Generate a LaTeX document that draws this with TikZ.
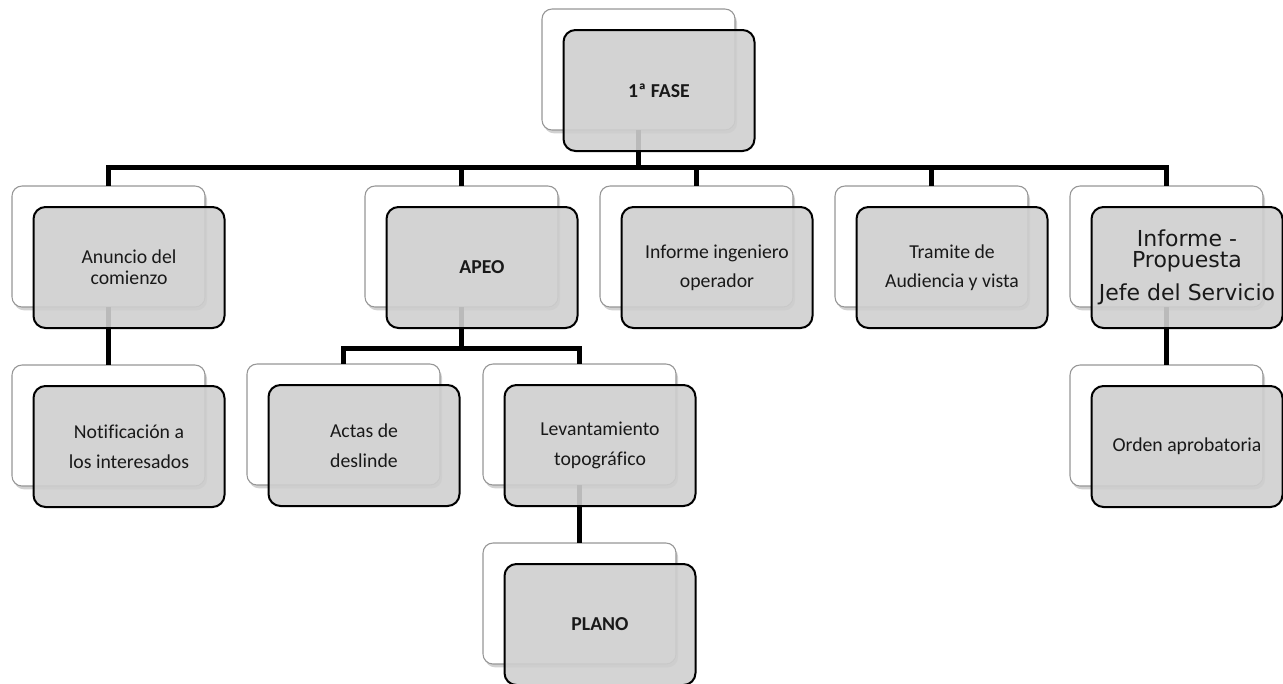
\documentclass[tikz,border=0pt]{standalone}
\usepackage{fontspec}
\setmainfont{Carlito}[Ligatures=NoCommon]
\newfontfamily\verdfont{DejaVu Sans}
\usetikzlibrary{shadows}
\definecolor{boxgray}{RGB}{207,207,207}
\definecolor{wedge}{RGB}{150,150,150}
\tikzset{
 wbox/.style={draw=wedge, line width=0.8pt, fill=white, rounded corners=7.5pt,
   minimum width=144.75pt, minimum height=90.75pt, inner sep=0pt, outer sep=0pt,
   anchor=north west,
   drop shadow={shadow xshift=1.5pt, shadow yshift=-2.5pt, opacity=0.3, fill=black!60}},
 gbox/.style={draw=black, line width=1.5pt, fill=boxgray, fill opacity=0.9, text opacity=1,
   rounded corners=9pt, minimum width=143.25pt, minimum height=90.75pt,
   inner sep=0pt, outer sep=0pt, anchor=north west, align=center,
   font=\fontsize{14.8}{22.5}\selectfont, text=black!90},
 conn/.style={line width=3.75pt, draw=black},
}
\begin{document}
\begin{tikzpicture}[x=0.75pt,y=-0.75pt]
\useasboundingbox (0,0) rectangle (1283,683);
% back (white) boxes
\node[wbox] (faseW)  at (542,9)   {};
\node[wbox] (anuW)   at (12,186)  {};
\node[wbox] (apeoW)  at (365,186) {};
\node[wbox] (ingW)   at (600,186) {};
\node[wbox] (tramW)  at (835,186) {};
\node[wbox] (propW)  at (1070,186) {};
\node[wbox] (notiW)  at (12,365)  {};
\node[wbox] (actasW) at (247,364) {};
\node[wbox] (levW)   at (483,364) {};
\node[wbox] (ordenW) at (1070,365) {};
\node[wbox] (planoW) at (483,543) {};
% connectors
\foreach \c in {anuW,apeoW,ingW,tramW,propW}
  \draw[conn] (faseW.south) -- ++(0,37) -| (\c.north);
\foreach \c in {actasW,levW}
  \draw[conn] (apeoW.south) -- ++(0,41) -| (\c.north);
\draw[conn] (anuW.south) -- (notiW.north);
\draw[conn] (propW.south) -- (ordenW.north);
\draw[conn] (levW.south) -- (planoW.north);
% front (grey) boxes
\node[gbox] (faseG)  at (563.5,30)  {\bfseries 1ª FASE};
\node[gbox, font=\fontsize{14.8}{15.75}\selectfont] (anuG) at (33.5,207) {Anuncio del\\comienzo};
\node[gbox] (apeoG)  at (386.5,207) {\bfseries APEO};
\node[gbox, font=\fontsize{14.8}{21.5}\selectfont] (ingG) at (621.5,207) {Informe ingeniero\\operador};
\node[gbox, font=\fontsize{14.8}{21.75}\selectfont] (tramG) at (856.5,207) {Tramite de\\Audiencia y vista};
\node[gbox, font=\verdfont\fontsize{16.5}{15.75}\selectfont] (propG) at (1091.5,207) {Informe -\\Propuesta\\[7.5pt]Jefe del Servicio};
\node[gbox] (notiG)  at (33.5,386)  {Notificación a\\los interesados};
\node[gbox] (actasG) at (268.5,385) {Actas de\\deslinde};
\node[gbox] (levG)   at (504.5,385) {Levantamiento\\topográfico};
\node[gbox] (ordenG) at (1091.5,386) {Orden aprobatoria};
\node[gbox] (planoG) at (504.5,564) {\bfseries PLANO};
\end{tikzpicture}
\end{document}
